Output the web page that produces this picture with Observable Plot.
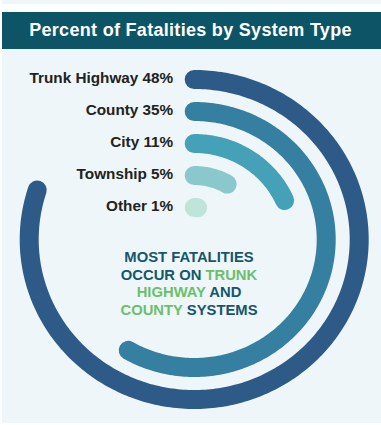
<!DOCTYPE html>
<html>
<head>
<meta charset="utf-8">
<script src="https://cdn.jsdelivr.net/npm/d3@7"></script>
<script src="https://cdn.jsdelivr.net/npm/@observablehq/plot@0.6"></script>
<style>
  html, body { margin: 0; padding: 0; background: #ffffff; width: 381px; height: 425px; overflow: hidden; font-family: "Liberation Sans", Arial, Helvetica, sans-serif; }
  #topstrip { position: absolute; left: 2px; top: 0; width: 379px; height: 4px; background: #eef6fa; }
  #panel { position: absolute; left: 2px; top: 49px; width: 379px; height: 374px; background: #eef6fa; }
  #title { position: absolute; left: 2px; top: 12px; width: 379px; height: 37px; background: #0d5566; color: #ffffff; font-weight: bold; font-size: 18px; letter-spacing: 0.3px; text-align: center; line-height: 37px; box-sizing: border-box; padding-right: 2px; }
  #chart { position: absolute; left: 0; top: 49px; width: 381px; }
  #note { position: absolute; left: 89px; top: 249px; width: 200px; text-align: center; font-weight: bold; font-size: 14.8px; line-height: 17.7px; color: #16566b; }
  #note .g { color: #6cbf6a; }
</style>
</head>
<body>
<div id="topstrip"></div>
<div id="panel"></div>
<div id="title">Percent of Fatalities by System Type</div>
<div id="chart"></div>
<div id="note">MOST FATALITIES<br>OCCUR ON <span class="g">TRUNK</span><br><span class="g">HIGHWAY</span> AND<br><span class="g">COUNTY</span> SYSTEMS</div>
<script>
const categories = ["Trunk Highway", "County", "City", "Township", "Other"];
const percents = [48, 35, 11, 5, 1];
const colors = ["#2d5a87", "#357fa1", "#44a1b8", "#8ac8cd", "#bfe5da"];
const fullCirclePercent = 60; // the arcs' scale: 60% would close the ring

// ring radius index: outermost for the first category
const ringOf = (i) => categories.length - i;

// arc geometry derived from each value
const arcPts = [];
categories.forEach((c, i) => {
  const r = ringOf(i);
  const end = percents[i] / fullCirclePercent * 360;
  const n = Math.max(2, Math.ceil(end));
  for (let k = 0; k <= n; k++) {
    const a = (end * k / n) * Math.PI / 180;
    arcPts.push({cat: c, x: r * Math.sin(a), y: r * Math.cos(a)});
  }
});

const labels = categories.map((c, i) => ({cat: c, r: ringOf(i), text: `${c} ${percents[i]}%`}));

const W = 381, H = 374;
const cx = 193.7, cy = 190, ux = 33, uy = 32;

const chart = Plot.plot({
  width: W,
  height: H,
  margin: 0,
  style: {background: "transparent", fontFamily: "'Liberation Sans', Arial, Helvetica, sans-serif", overflow: "visible"},
  x: {domain: [-6, 6], range: [cx - 6 * ux, cx + 6 * ux], axis: null},
  y: {domain: [-6, 6], range: [cy + 6 * uy, cy - 6 * uy], axis: null},
  color: {domain: categories, range: colors},
  marks: [
    Plot.line(arcPts, {x: "x", y: "y", z: "cat", stroke: "cat", strokeWidth: 19, strokeLinecap: "round", strokeLinejoin: "round", curve: "linear"}),
    Plot.text(labels, {x: () => 0, y: "r", text: "text", textAnchor: "end", dx: -21, dy: -1, fontSize: 15.3, fontWeight: "bold", fill: "#222222"})
  ]
});
document.getElementById("chart").appendChild(chart);
</script>
</body>
</html>
